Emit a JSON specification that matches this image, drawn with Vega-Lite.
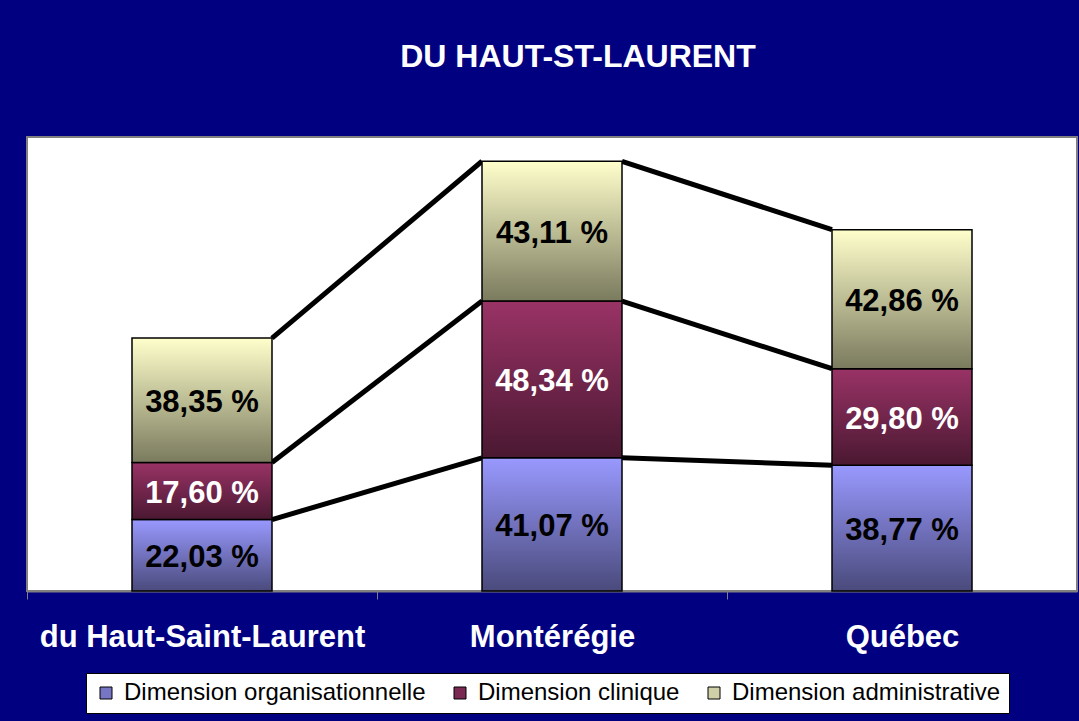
{
  "$schema": "https://vega.github.io/schema/vega-lite/v6.json",
  "width": 1050,
  "height": 454,
  "autosize": {"type": "none"},
  "padding": {"left": 27, "top": 137, "right": 2, "bottom": 130},
  "background": "#000080",
  "title": {"text": "DU HAUT-ST-LAURENT", "color": "white", "font": "Liberation Sans", "fontSize": 32, "fontWeight": "bold", "anchor": "middle", "baseline": "alphabetic", "offset": 70, "dx": 26, "dy": 32},
  "data": {"values": [
    {"region": "du Haut-Saint-Laurent", "ri": 1, "series": "Dimension organisationnelle", "o": 1, "value": 22.03, "label": "22,03 %"},
    {"region": "du Haut-Saint-Laurent", "ri": 1, "series": "Dimension clinique", "o": 2, "value": 17.60, "label": "17,60 %"},
    {"region": "du Haut-Saint-Laurent", "ri": 1, "series": "Dimension administrative", "o": 3, "value": 38.35, "label": "38,35 %"},
    {"region": "Montérégie", "ri": 2, "series": "Dimension organisationnelle", "o": 1, "value": 41.07, "label": "41,07 %"},
    {"region": "Montérégie", "ri": 2, "series": "Dimension clinique", "o": 2, "value": 48.34, "label": "48,34 %"},
    {"region": "Montérégie", "ri": 2, "series": "Dimension administrative", "o": 3, "value": 43.11, "label": "43,11 %"},
    {"region": "Québec", "ri": 3, "series": "Dimension organisationnelle", "o": 1, "value": 38.77, "label": "38,77 %"},
    {"region": "Québec", "ri": 3, "series": "Dimension clinique", "o": 2, "value": 29.80, "label": "29,80 %"},
    {"region": "Québec", "ri": 3, "series": "Dimension administrative", "o": 3, "value": 42.86, "label": "42,86 %"}
  ]},
  "transform": [
    {"stack": "value", "groupby": ["region"], "sort": [{"field": "o", "order": "ascending"}], "as": ["y0", "y1"]}
  ],
  "encoding": {
    "x": {"field": "region", "type": "nominal", "title": null, "sort": null,
      "scale": {"domain": ["du Haut-Saint-Laurent", "Montérégie", "Québec"], "paddingInner": 0.6, "paddingOuter": 0.3},
      "axis": {"tickOffset": -175, "labelOffset": 175}}
  },
  "layer": [
    {
      "transform": [
        {"window": [{"op": "lead", "field": "y1", "as": "ny1"}, {"op": "lead", "field": "region", "as": "nregion"}], "groupby": ["series"], "sort": [{"field": "ri", "order": "ascending"}]},
        {"filter": "datum.nregion != null"}
      ],
      "mark": {"type": "rule", "strokeWidth": 5, "color": "black"},
      "encoding": {
        "x": {"field": "region", "type": "nominal", "title": null, "bandPosition": 1,
          "axis": {"tickOffset": -175, "labelOffset": 175}},
        "x2": {"field": "nregion", "bandPosition": 0},
        "y": {"field": "y1", "type": "quantitative", "scale": {"domain": [0, 140]}, "axis": null},
        "y2": {"field": "ny1"}
      }
    },
    {
      "transform": [{"filter": "datum.o == 1"}],
      "mark": {"type": "bar", "stroke": "#000000", "strokeWidth": 1.5,
        "fill": {"gradient": "linear", "x1": 0, "y1": 0, "x2": 0, "y2": 1, "stops": [{"offset": 0, "color": "#9999FF"}, {"offset": 1, "color": "#4A4A7C"}]}},
      "encoding": {
        "y": {"field": "y0", "type": "quantitative", "scale": {"domain": [0, 140]}, "axis": null},
        "y2": {"field": "y1"}
      }
    },
    {
      "transform": [{"filter": "datum.o == 2"}],
      "mark": {"type": "bar", "stroke": "#000000", "strokeWidth": 1.5,
        "fill": {"gradient": "linear", "x1": 0, "y1": 0, "x2": 0, "y2": 1, "stops": [{"offset": 0, "color": "#993366"}, {"offset": 1, "color": "#4A1831"}]}},
      "encoding": {
        "y": {"field": "y0", "type": "quantitative", "scale": {"domain": [0, 140]}, "axis": null},
        "y2": {"field": "y1"}
      }
    },
    {
      "transform": [{"filter": "datum.o == 3"}],
      "mark": {"type": "bar", "stroke": "#000000", "strokeWidth": 1.5,
        "fill": {"gradient": "linear", "x1": 0, "y1": 0, "x2": 0, "y2": 1, "stops": [{"offset": 0, "color": "#FFFFCC"}, {"offset": 1, "color": "#7A7A5E"}]}},
      "encoding": {
        "y": {"field": "y0", "type": "quantitative", "scale": {"domain": [0, 140]}, "axis": null},
        "y2": {"field": "y1"}
      }
    },
    {
      "transform": [
        {"fold": ["y0", "y1"], "as": ["k", "v"]},
        {"aggregate": [{"op": "mean", "field": "v", "as": "mid"}], "groupby": ["region", "series", "label"]}
      ],
      "mark": {"type": "text", "font": "Liberation Sans", "fontSize": 31, "fontWeight": "bold", "baseline": "middle", "dy": 3},
      "encoding": {
        "y": {"field": "mid", "type": "quantitative", "scale": {"domain": [0, 140]}, "axis": null},
        "text": {"field": "label"},
        "color": {"condition": {"test": "datum.series === 'Dimension clinique'", "value": "white"}, "value": "black"}
      }
    },
    {
      "mark": {"type": "square", "opacity": 0},
      "encoding": {
        "y": {"field": "y1", "type": "quantitative", "scale": {"domain": [0, 140]}, "axis": null},
        "color": {"field": "series", "type": "nominal",
          "scale": {"domain": ["Dimension organisationnelle", "Dimension clinique", "Dimension administrative"], "range": ["#7676C4", "#7A2952", "#CFCFA8"]},
          "legend": {"title": null, "orient": "none", "legendX": 59, "legendY": 536, "direction": "horizontal", "fillColor": "white", "strokeColor": "black", "padding": 8,
            "labelFont": "Liberation Sans", "labelFontSize": 24, "labelColor": "black", "labelLimit": 500, "labelOffset": 6,
            "symbolType": "square", "symbolSize": 144, "symbolStrokeColor": "black", "symbolStrokeWidth": 1, "symbolOpacity": 1, "columnPadding": 22}
        }
      }
    }
  ],
  "config": {
    "view": {"fill": "white", "stroke": "#808080", "strokeWidth": 2},
    "axisX": {"domainColor": "#808080", "domainWidth": 2, "tickColor": "#808080", "tickSize": 8, "tickWidth": 1,
      "labelColor": "white", "labelFont": "Liberation Sans", "labelFontSize": 31, "labelFontWeight": "bold", "labelPadding": 23, "labelLimit": 500, "labelAngle": 0, "grid": false}
  }
}
